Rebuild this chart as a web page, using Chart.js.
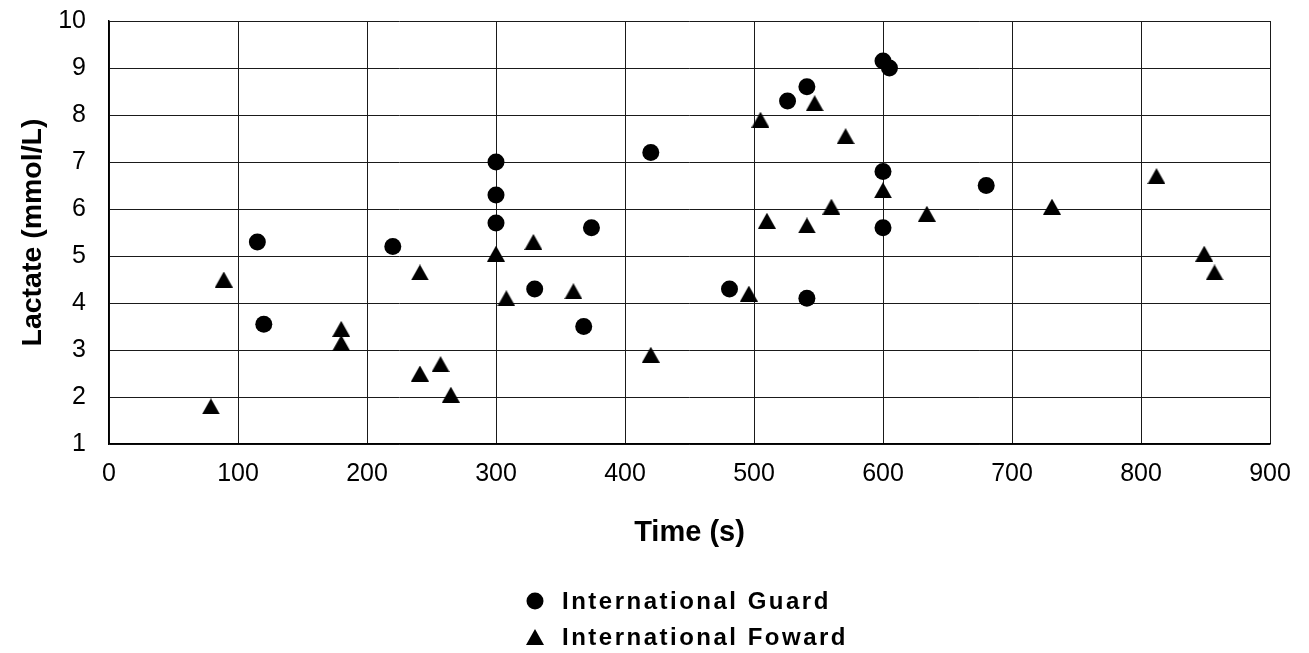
<!DOCTYPE html>
<html>
<head>
<meta charset="utf-8">
<script src="https://cdn.jsdelivr.net/npm/chart.js@4.4.1/dist/chart.umd.min.js"></script>
<style>
html,body{margin:0;padding:0;background:#fff;}
canvas{display:block;}
</style>
</head>
<body>
<canvas id="c" width="1309" height="653"></canvas>
<script>
// ---- data ----
const seriesNames = ['International Guard', 'International Foward'];

const guardTime    = [115, 120, 220, 300, 300, 300, 330, 368, 374, 420, 481, 526, 541, 541, 600, 605, 600, 600, 680];
const guardLactate = [5.3, 3.55, 5.2, 7.0, 6.3, 5.7, 4.3, 3.5, 5.6, 7.2, 4.3, 8.3, 8.6, 4.1, 9.15, 9.0, 6.8, 5.6, 6.5];

const forwardTime    = [79, 89, 180, 180, 241, 241, 257, 265, 300, 308, 329, 360, 420, 496, 505, 510, 541, 547, 560, 571, 600, 634, 731, 812, 849, 857];
const forwardLactate = [1.8, 4.5, 3.45, 3.15, 4.65, 2.5, 2.7, 2.05, 5.05, 4.1, 5.3, 4.25, 2.9, 4.2, 7.9, 5.75, 5.65, 8.25, 6.05, 7.55, 6.4, 5.9, 6.05, 6.7, 5.05, 4.65];

const xTickValues = [0, 100, 200, 300, 400, 500, 600, 700, 800, 900];
const yTickValues = [1, 2, 3, 4, 5, 6, 7, 8, 9, 10];

const xTitle = 'Time (s)';
const yTitle = 'Lactate (mmol/L)';

// ---- styling helpers ----
const FONT = '"Liberation Sans", Arial, Helvetica, sans-serif';

function triangleMarker(w, h) {
  const c = document.createElement('canvas');
  c.width = w; c.height = h;
  const g = c.getContext('2d');
  g.fillStyle = '#000';
  g.beginPath();
  g.moveTo(w / 2, 0);
  g.lineTo(w, h);
  g.lineTo(0, h);
  g.closePath();
  g.fill();
  return c;
}
const triImg = triangleMarker(18, 16);

function toPoints(xs, ys) {
  return xs.map((x, i) => ({ x: x, y: ys[i] }));
}

const stackedLegend = {
  id: 'stackedLegend',
  afterDraw(chart) {
    const ctx = chart.ctx;
    const markerX = 535, textX = 562, firstY = 601, rowH = 36;
    ctx.save();
    ctx.fillStyle = '#000';
    ctx.strokeStyle = '#000';
    chart.data.datasets.forEach((ds, i) => {
      const y = firstY + i * rowH;
      Chart.helpers.drawPoint(ctx, {
        pointStyle: ds.pointStyle,
        radius: ds.pointRadius,
        rotation: 0,
        borderWidth: 0
      }, markerX, y);
      ctx.save();
      ctx.font = 'bold 24px ' + FONT;
      if ('letterSpacing' in ctx) ctx.letterSpacing = '2.5px';
      ctx.textBaseline = 'middle';
      ctx.textAlign = 'left';
      ctx.fillStyle = '#000';
      ctx.fillText(ds.label, textX, y + 1);
      ctx.restore();
    });
    ctx.restore();
  }
};

new Chart(document.getElementById('c'), {
  type: 'scatter',
  data: {
    datasets: [
      {
        label: seriesNames[0],
        data: toPoints(guardTime, guardLactate),
        pointStyle: 'circle',
        pointRadius: 8.5,
        pointHoverRadius: 8.5,
        backgroundColor: '#000',
        borderColor: '#000',
        borderWidth: 0
      },
      {
        label: seriesNames[1],
        data: toPoints(forwardTime, forwardLactate),
        pointStyle: triImg,
        pointRadius: 9,
        pointHoverRadius: 9,
        backgroundColor: '#000',
        borderColor: '#000',
        borderWidth: 0
      }
    ]
  },
  options: {
    responsive: false,
    animation: false,
    devicePixelRatio: 1,
    layout: { padding: { left: 0, right: 39, top: 21, bottom: 93 } },
    plugins: {
      legend: { display: false },
      tooltip: { enabled: false }
    },
    scales: {
      x: {
        type: 'linear',
        min: 0, max: 900,
        afterBuildTicks(s) { s.ticks = xTickValues.map(v => ({ value: v })); },
        afterFit(s) { s.height = 116; },
        ticks: {
          color: '#000',
          padding: 15,
          font: { family: FONT, size: 25 },
          maxRotation: 0
        },
        grid: { color: '#1a1a1a', lineWidth: 1, drawTicks: false },
        border: { color: '#000', width: 1.5 },
        title: {
          display: true,
          text: xTitle,
          color: '#000',
          font: { family: FONT, size: 29, weight: 'bold' },
          padding: { top: 0, bottom: 10 }
        }
      },
      y: {
        type: 'linear',
        min: 1, max: 10,
        afterBuildTicks(s) { s.ticks = yTickValues.map(v => ({ value: v })); },
        afterFit(s) { s.width = 109; s.paddingTop = 0; s.paddingBottom = 0; },
        ticks: {
          color: '#000',
          padding: 23,
          font: { family: FONT, size: 25 }
        },
        grid: { color: '#1a1a1a', lineWidth: 1, drawTicks: false },
        border: { color: '#000', width: 1.5 },
        title: {
          display: true,
          text: yTitle,
          color: '#000',
          font: { family: FONT, size: 28.5, weight: 'bold' },
          padding: { top: 16, bottom: 0 }
        }
      }
    }
  },
  plugins: [stackedLegend]
});
</script>
</body>
</html>
